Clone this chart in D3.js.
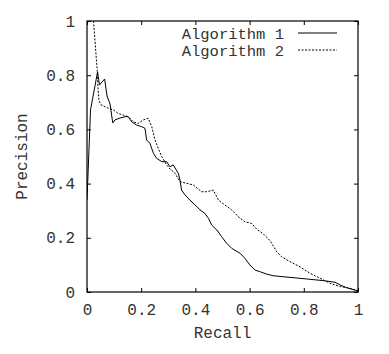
<!DOCTYPE html>
<html>
<head>
<meta charset="utf-8">
<script src="https://cdn.jsdelivr.net/npm/d3@7"></script>
<style>
  body { margin: 0; background: #fff; }
  text { font-family: "Liberation Mono", "DejaVu Sans Mono", monospace; fill: #333; }
</style>
</head>
<body>
<svg id="chart" width="389" height="354"></svg>
<script>
// recall / precision pairs
const recall1 = [0, 0.013, 0.039, 0.046, 0.065, 0.074, 0.085, 0.095, 0.103, 0.122, 0.140, 0.152, 0.165, 0.183, 0.202, 0.214, 0.220, 0.232, 0.245, 0.257, 0.276, 0.294, 0.306, 0.318, 0.337, 0.343, 0.349, 0.362, 0.380, 0.399, 0.417, 0.435, 0.448, 0.460, 0.479, 0.497, 0.515, 0.534, 0.565, 0.583, 0.601, 0.620, 0.638, 0.663, 0.687, 0.749, 0.811, 0.872, 0.915, 0.934, 0.958, 0.989, 1.0];
const precision1 = [0.339, 0.672, 0.812, 0.764, 0.786, 0.723, 0.694, 0.624, 0.635, 0.642, 0.647, 0.647, 0.628, 0.616, 0.610, 0.604, 0.561, 0.549, 0.512, 0.493, 0.481, 0.481, 0.462, 0.469, 0.438, 0.413, 0.376, 0.358, 0.339, 0.321, 0.303, 0.290, 0.272, 0.247, 0.229, 0.204, 0.180, 0.161, 0.143, 0.124, 0.100, 0.081, 0.075, 0.066, 0.060, 0.054, 0.048, 0.042, 0.036, 0.026, 0.016, 0.007, 0.004];

const recall2 = [0.024, 0.038, 0.041, 0.044, 0.051, 0.066, 0.079, 0.097, 0.115, 0.134, 0.152, 0.171, 0.189, 0.208, 0.226, 0.239, 0.251, 0.263, 0.276, 0.294, 0.306, 0.325, 0.343, 0.368, 0.392, 0.423, 0.442, 0.466, 0.485, 0.509, 0.534, 0.558, 0.583, 0.608, 0.626, 0.651, 0.675, 0.700, 0.718, 0.749, 0.786, 0.823, 0.860, 0.897, 0.934, 0.970, 1.0];
const precision2 = [1.0, 0.814, 0.745, 0.708, 0.691, 0.684, 0.678, 0.672, 0.659, 0.653, 0.647, 0.628, 0.622, 0.635, 0.641, 0.610, 0.561, 0.530, 0.499, 0.469, 0.454, 0.438, 0.407, 0.401, 0.395, 0.370, 0.370, 0.376, 0.339, 0.321, 0.303, 0.278, 0.259, 0.253, 0.232, 0.214, 0.190, 0.149, 0.130, 0.112, 0.093, 0.069, 0.051, 0.032, 0.020, 0.014, 0.004];

const seriesNames = ["Algorithm 1", "Algorithm 2"];
const tickValues = [0, 0.2, 0.4, 0.6, 0.8, 1];

const svg = d3.select("#chart");
const plotL = 87, plotR = 358, plotT = 21, plotB = 292;
const fontSize = "16px";

let x = d3.scaleLinear().domain([0, 1]).range([plotL, plotR]);
let y = d3.scaleLinear().domain([0, 1]).range([plotB, plotT]);
let fmt = d => d === 0 || d === 1 ? String(d) : d.toFixed(1);

svg.append("clipPath").attr("id", "plot")
  .append("rect").attr("x", plotL).attr("y", plotT)
  .attr("width", plotR - plotL).attr("height", plotB - plotT);

// axes with inward ticks, mirrored on top and right
let tickLen = 4;
svg.append("g").attr("transform", `translate(0,${plotB})`)
  .call(d3.axisBottom(x).tickValues(tickValues).tickSize(-tickLen).tickPadding(12).tickFormat(fmt));
svg.append("g").attr("transform", `translate(0,${plotT})`)
  .call(d3.axisTop(x).tickValues(tickValues).tickSize(-tickLen).tickFormat(""));
svg.append("g").attr("transform", `translate(${plotL},0)`)
  .call(d3.axisLeft(y).tickValues(tickValues).tickSize(-tickLen).tickPadding(12).tickFormat(fmt));
svg.append("g").attr("transform", `translate(${plotR},0)`)
  .call(d3.axisRight(y).tickValues(tickValues).tickSize(-tickLen).tickFormat(""));

svg.selectAll(".domain").remove();
svg.selectAll(".tick line").attr("stroke", "#000");
svg.selectAll(".tick text").style("font-size", fontSize).attr("fill", "#333");

svg.append("rect")
  .attr("x", plotL).attr("y", plotT)
  .attr("width", plotR - plotL).attr("height", plotB - plotT)
  .attr("fill", "none").attr("stroke", "#000").attr("stroke-width", 1.2);

let line = d3.line().x(d => x(d[0])).y(d => y(d[1]));

svg.append("path")
  .datum(d3.zip(recall1, precision1))
  .attr("clip-path", "url(#plot)")
  .attr("d", line)
  .attr("fill", "none").attr("stroke", "#000").attr("stroke-width", 1);

svg.append("path")
  .datum(d3.zip(recall2, precision2))
  .attr("clip-path", "url(#plot)")
  .attr("d", line)
  .attr("fill", "none").attr("stroke", "#000").attr("stroke-width", 1)
  .attr("stroke-dasharray", "2,1.5");

// legend
let legend = svg.append("g");
seriesNames.forEach((name, i) => {
  let ly = 34 + i * 17;
  legend.append("text")
    .attr("x", 284).attr("y", ly).attr("dy", "0.35em")
    .attr("text-anchor", "end").style("font-size", "15.5px")
    .text(name);
  legend.append("line")
    .attr("x1", 298).attr("x2", 337).attr("y1", ly - 1).attr("y2", ly - 1)
    .attr("stroke", "#000").attr("stroke-width", 1)
    .attr("stroke-dasharray", i === 0 ? null : "2,1.5");
});

svg.append("text")
  .attr("x", (plotL + plotR) / 2).attr("y", 338)
  .attr("text-anchor", "middle").style("font-size", fontSize)
  .text("Recall");

svg.append("text")
  .attr("transform", `translate(27,${(plotT + plotB) / 2}) rotate(-90)`)
  .attr("text-anchor", "middle").style("font-size", fontSize)
  .text("Precision");
</script>
</body>
</html>
